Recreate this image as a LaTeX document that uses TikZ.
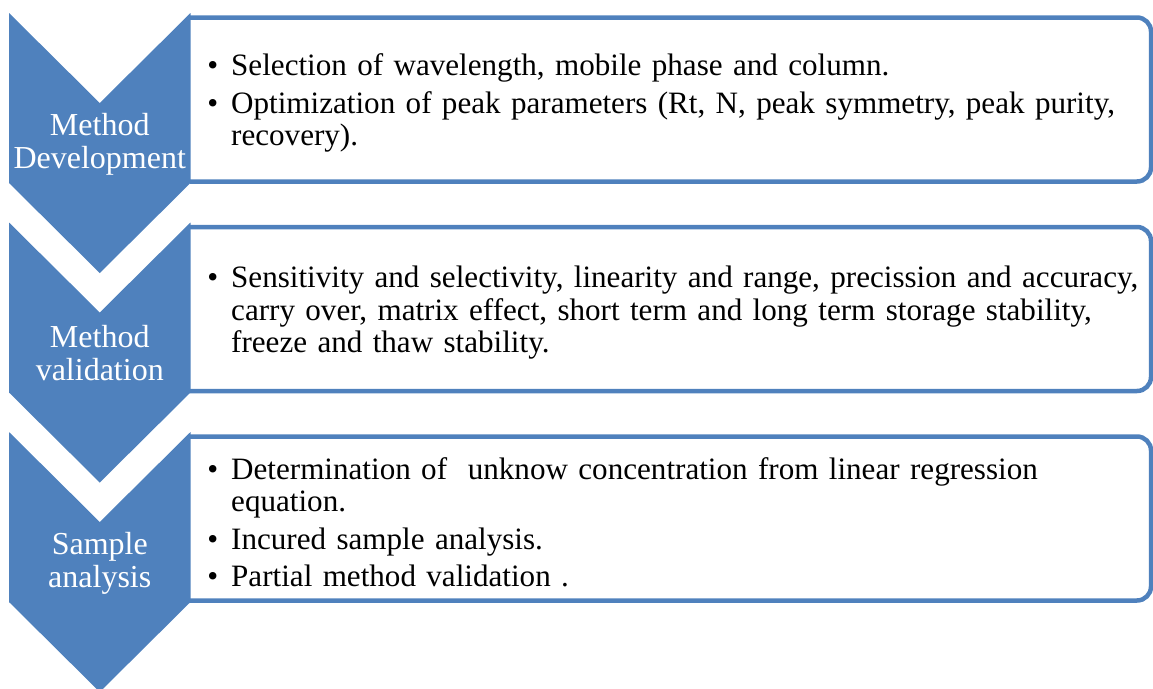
\documentclass[tikz,border=0pt]{standalone}
\usepackage{fontspec}
\setmainfont{Liberation Serif}
\usepackage{enumitem}
\usepackage{tikz}
\usetikzlibrary{positioning}

\definecolor{smartblue}{RGB}{79,129,189}

\newcommand{\stagefont}{\fontsize{32}{33}\selectfont}
\newcommand{\itemfont}{\fontsize{31.1}{32.5}\selectfont}
\newenvironment{boxlist}{\begin{itemize}[leftmargin=25pt,labelsep=13pt,itemsep=5pt,topsep=0pt,partopsep=0pt,parsep=0pt]}{\end{itemize}}

\begin{document}
\begin{tikzpicture}
	[   x=1pt,y=-1pt,
	    chev/.style={fill=smartblue,draw=none},
	    stagetext/.style={text=white,font=\stagefont,align=center,inner sep=0pt},
	]
	\tikzset{listbox/.style={draw=smartblue,line width=4.5pt,rounded corners=14pt},
	         listtext/.style={anchor=west,font=\itemfont,text width=970pt,align=left,inner sep=0pt}}
	\clip (0,0) rectangle (1153,688);
	
	% boxes first, chevrons on top of their left ends
	\foreach \i in {0,1,2}
	{
		\pgfmathsetmacro{\T}{13+209.5*\i}
		\draw[listbox] (190,\T+4.5) -- (1151,\T+4.5) -- (1151,\T+168.5) -- (190,\T+168.5);
		\fill[chev] (9,\T) -- (99.75,\T+90) -- (190.5,\T) -- (190.5,\T+170)
			-- (99.75,\T+260) -- (9,\T+170) -- cycle;
		\coordinate (stage-\i) at (99.75,\T+131);
		\coordinate (box-\i) at (206,\T+85);
	}
	
	\node[stagetext] (stage1) at (stage-0) {Method\\Development};
	\node[stagetext] (stage2) at (stage-1) {Method\\validation};
	\node[stagetext] (stage3) at (stage-2) {Sample\\analysis};
	
	\node[listtext] (items1) at (box-0) {\begin{boxlist}
		\item Selection of wavelength, mobile phase and column.
		\item Optimization of peak parameters (Rt, N, peak symmetry, peak purity,\\ recovery).
	\end{boxlist}};
	\node[listtext] (items2) at (box-1) {\begin{boxlist}
		\item Sensitivity and selectivity, linearity and range, precission and accuracy,\\ carry over, matrix effect, short term and long term storage stability,\\ freeze and thaw stability.
	\end{boxlist}};
	\node[listtext] (items3) at (box-2) {\begin{boxlist}
		\item Determination of \ unknow concentration from linear regression\\ equation.
		\item Incured sample analysis.
		\item Partial method validation .
	\end{boxlist}};
\end{tikzpicture}
\end{document}
